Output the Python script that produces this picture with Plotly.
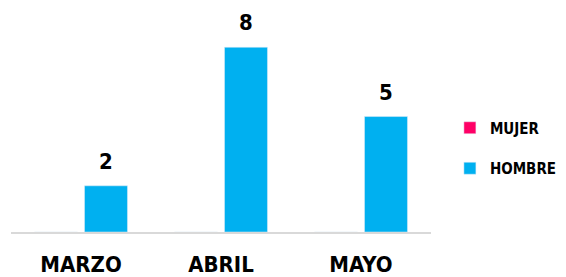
import plotly.graph_objects as go

months = ["MARZO", "ABRIL", "MAYO"]
mujer = [0, 0, 0]
hombre = [2, 8, 5]

FONT = "DejaVu Sans Condensed, Liberation Sans Narrow, Arial Narrow, sans-serif"

fig = go.Figure()
fig.add_trace(go.Bar(name="MUJER", x=months, y=mujer, marker_color="#FF0066",
                     legendgroup="m"))
fig.add_trace(go.Bar(name="HOMBRE", x=months, y=hombre, marker_color="#00B0F0",
                     legendgroup="h"))

for m, v in zip(months, hombre):
    fig.add_annotation(x=m, y=v, text=str(v), showarrow=False, yanchor="bottom",
                       xshift=25, yshift=10,
                       font=dict(family=FONT, size=22, color="#000", weight="bold"))

fig.update_layout(
    width=558, height=269,
    margin=dict(l=3, r=135, t=0, b=45, autoexpand=False),
    paper_bgcolor="white", plot_bgcolor="white",
    barmode="group", bargap=0.286, bargroupgap=0.14,
    showlegend=True,
    legend=dict(x=1.045, y=0.538, xanchor="left", yanchor="top",
                font=dict(family=FONT, size=15, color="#000", weight="bold"),
                tracegroupgap=18, traceorder="grouped", itemwidth=30),
    xaxis=dict(showline=True, linecolor="#D9D9D9", linewidth=2, ticks="",
               ticklabelstandoff=12,
               tickfont=dict(family=FONT, size=22, color="#000", weight="bold")),
    yaxis=dict(range=[0, 9.7], visible=False, showgrid=False, zeroline=False),
)

fig.write_html("out.html")
